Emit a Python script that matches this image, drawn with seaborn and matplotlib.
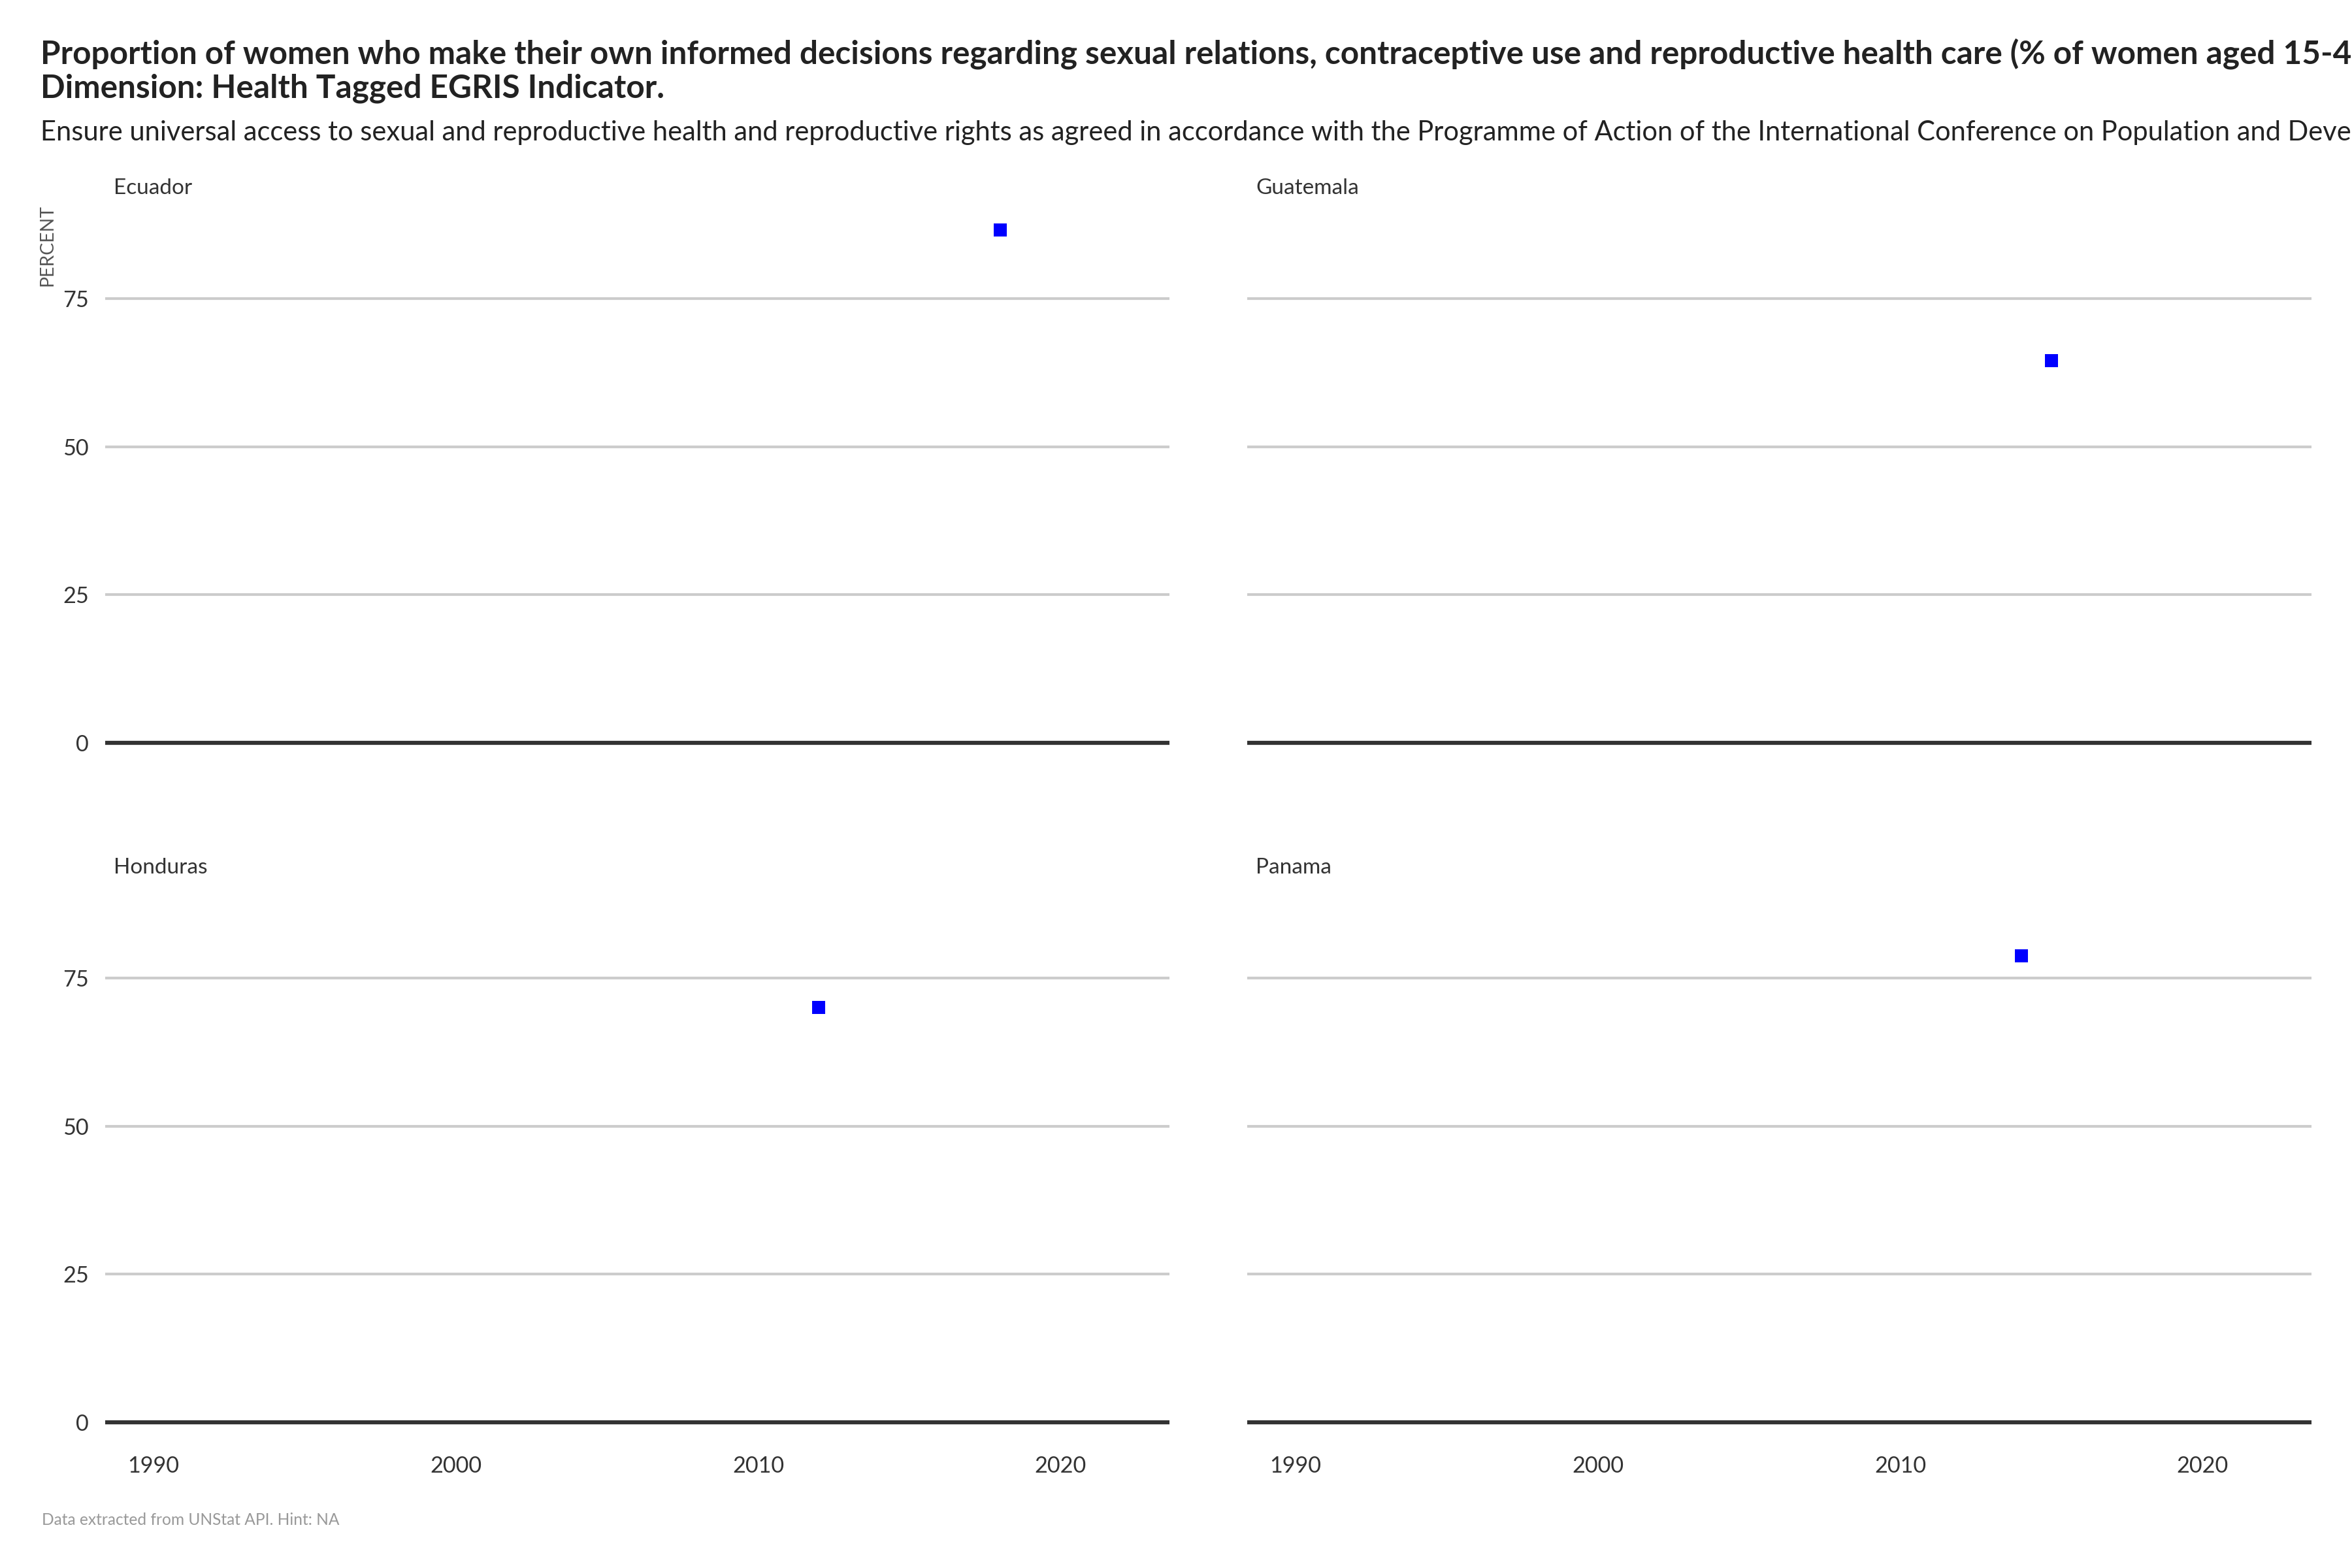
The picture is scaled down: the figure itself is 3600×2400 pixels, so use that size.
import pandas as pd
import matplotlib.pyplot as plt
import seaborn as sns

# data
countries = ['Ecuador', 'Guatemala', 'Honduras', 'Panama']
years = [2018, 2015, 2012, 2014]
values = [86.6, 64.6, 70.1, 78.8]

x_ticks = [1990, 2000, 2010, 2020]
y_ticks = [0, 25, 50, 75]

title_1 = ('Proportion of women who make their own informed decisions regarding sexual relations, '
           'contraceptive use and reproductive health care (% of women aged 15-49 years)')
title_2 = 'Dimension: Health Tagged EGRIS Indicator.'
subtitle = ('Ensure universal access to sexual and reproductive health and reproductive rights as agreed '
            'in accordance with the Programme of Action of the International Conference on Population '
            'and Development and the Beijing Platform for Action and the outcome documents of their review conferences')
caption = 'Data extracted from UNStat API. Hint: NA'

df = pd.DataFrame({'country': countries, 'year': years, 'value': values})

sns.set_style('white')
plt.rcParams['font.family'] = ['Lato', 'DejaVu Sans']

fig, axes = plt.subplots(2, 2, figsize=(12, 8), dpi=300, sharex=True, sharey=True)
fig.subplots_adjust(left=0.0447, right=0.9828, bottom=0.0767, top=0.8696,
                    wspace=0.073, hspace=0.205)

for ax, name in zip(axes.flat, countries):
    sub = df[df['country'] == name]
    for y in y_ticks[1:]:
        ax.axhline(y, color='#cccccc', linewidth=1.0, zorder=0)
    ax.axhline(0, color='#333333', linewidth=1.5, zorder=1)
    sns.scatterplot(data=sub, x='year', y='value', marker='s', color='#0000ff',
                    s=24, linewidth=0, ax=ax, zorder=3)
    ax.set_xlim(1988.4, 2023.6)
    ax.set_ylim(-4.33, 90.93)
    ax.set_xticks(x_ticks)
    ax.set_yticks(y_ticks)
    ax.set_xlabel('')
    ax.set_ylabel('')
    for s in ax.spines.values():
        s.set_visible(False)
    ax.tick_params(length=0, labelsize=8.2, colors='#333333', pad=6)
    ax.tick_params(axis='x', pad=3)
    ax.text(0.008, 1.0186, name, transform=ax.transAxes, ha='left', va='baseline',
            fontsize=8, color='#333333')

fig.text(0.0172, 1 - 97 / 2400, title_1, ha='left', va='baseline', fontsize=11.9,
         fontweight='bold', color='#222222')
fig.text(0.0172, 1 - 150 / 2400, title_2, ha='left', va='baseline', fontsize=11.9,
         fontweight='bold', color='#222222')
fig.text(0.0172, 1 - 215 / 2400, subtitle, ha='left', va='baseline', fontsize=10,
         color='#222222')
fig.text(0.02, 0.8696, 'PERCENT', rotation=90, ha='center', va='top',
         fontsize=6.8, color='#555555')
fig.text(0.0178, 1 - 2327 / 2400, caption, ha='left', va='center', fontsize=5.9,
         color='#999999')

plt.savefig('out.png', dpi=300)
